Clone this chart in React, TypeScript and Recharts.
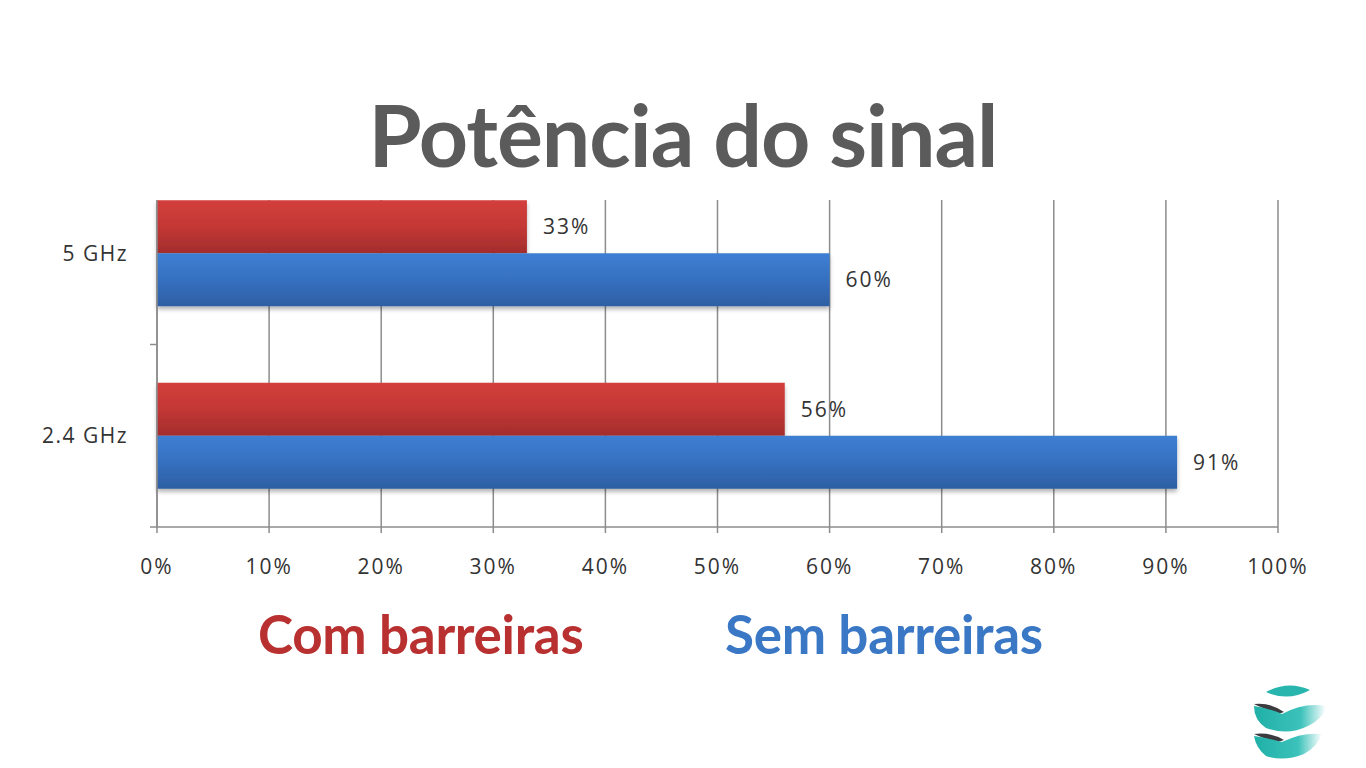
import { BarChart, Bar, XAxis, YAxis, CartesianGrid, LabelList } from "recharts";

const categories = ["5 GHz", "2.4 GHz"];
const comBarreiras = [33, 56];
const semBarreiras = [60, 91];
const xTicks = [0, 10, 20, 30, 40, 50, 60, 70, 80, 90, 100];
const seriesNames = ["Com barreiras", "Sem barreiras"];
const seriesColors = ["#b8302f", "#3a78c6"];

const data = categories.map((c, i) => ({ name: c, com: comBarreiras[i], sem: semBarreiras[i] }));

const TICK_SIZE = 7;
const TICK_MARGIN = 22;
const axisGray = "#8c8c8c";
const labelFont = "'Open Sans', sans-serif";

function YTick(props: any) {
  const { x, y, payload } = props;
  const off = payload.offset ?? 0;
  const x1 = x + TICK_MARGIN;
  return (
    <g>
      <text x={x} y={y} dy="0.35em" textAnchor="end" fill="#333" fontSize={21} letterSpacing={1.5} fontFamily={labelFont}>
        {payload.value}
      </text>
      <line x1={x1} x2={x1 + TICK_SIZE} y1={y + off} y2={y + off} stroke={axisGray} strokeWidth={1.5} />
    </g>
  );
}

function Logo() {
  return (
    <svg width={80} height={80} style={{ position: "absolute", left: 1248, top: 682 }} viewBox="0 0 80 80">
      <defs>
        <linearGradient id="tealFade" x1="0" y1="0" x2="1" y2="0">
          <stop offset="0" stopColor="#1fb0a8" />
          <stop offset="0.65" stopColor="#3cc2ba" />
          <stop offset="1" stopColor="#ffffff" />
        </linearGradient>
      </defs>
      <path d="M18 10 Q40 -2 62 8 Q40 20 18 10 Z" fill="#27b5ad" />
      <path d="M6 22 Q22 20 36 30 L30 32 Q14 26 6 22 Z" fill="#3b3b3f" />
      <path d="M6 24 Q20 26 34 32 Q56 20 78 24 Q76 36 60 44 Q40 54 18 46 Q6 38 6 24 Z" fill="url(#tealFade)" />
      <path d="M6 52 Q22 50 36 58 L30 60 Q14 56 6 52 Z" fill="#3b3b3f" />
      <path d="M6 54 Q20 56 34 60 Q54 50 74 52 Q70 64 56 72 Q36 80 18 74 Q8 66 6 54 Z" fill="url(#tealFade)" />
    </svg>
  );
}

export default function App() {
  return (
    <div style={{ position: "absolute", left: 0, top: 0, width: 1366, height: 768, background: "#fff", overflow: "hidden", fontFamily: "Lato, sans-serif" }}>
      <div style={{ position: "absolute", left: 0, top: 82, width: 1366, textAlign: "center", fontSize: 86, fontWeight: 700, color: "#5b5b5b", letterSpacing: -1 }}>
        Potência do sinal
      </div>

      <div style={{ position: "absolute", left: 0, top: 200, width: 1366, height: 420, overflow: "hidden" }}>
        <div style={{ position: "absolute", left: 0, top: -200 }}>
          <BarChart
            width={1366}
            height={620}
            data={data}
            layout="vertical"
            margin={{ top: 162, right: 88, left: 0, bottom: 33 }}
            barCategoryGap="21%"
            barGap={0}
          >
            <defs>
              <linearGradient id="redGrad" x1="0" y1="0" x2="0" y2="1">
                <stop offset="0" stopColor="#d33f3c" />
                <stop offset="0.5" stopColor="#c33735" />
                <stop offset="1" stopColor="#a32d2c" />
              </linearGradient>
              <linearGradient id="blueGrad" x1="0" y1="0" x2="0" y2="1">
                <stop offset="0" stopColor="#3d7fd3" />
                <stop offset="0.5" stopColor="#3670c0" />
                <stop offset="1" stopColor="#2d5fa3" />
              </linearGradient>
              <filter id="barShadow" x="-5%" y="-20%" width="110%" height="160%">
                <feDropShadow dx="0" dy="3" stdDeviation="2" floodColor="#000" floodOpacity="0.3" />
              </filter>
            </defs>
            <CartesianGrid horizontal={false} stroke={axisGray} strokeWidth={1.5} />
            <XAxis
              type="number"
              domain={[0, 100]}
              ticks={xTicks}
              tickFormatter={(v: number) => `${v}%`}
              axisLine={{ stroke: axisGray, strokeWidth: 1.5 }}
              tickLine={{ stroke: axisGray, strokeWidth: 1.5 }}
              tickSize={6}
              tickMargin={26}
              height={60}
              tick={{ fill: "#333", fontSize: 21, fontFamily: labelFont, letterSpacing: 2 }}
              interval={0}
            />
            <YAxis
              type="category"
              dataKey="name"
              width={157}
              axisLine={{ stroke: axisGray, strokeWidth: 1.5 }}
              tickLine={false}
              tickSize={TICK_SIZE}
              tickMargin={TICK_MARGIN}
              tick={<YTick />}
            />
            <Bar dataKey="com" name={seriesNames[0]} fill="url(#redGrad)" filter="url(#barShadow)" isAnimationActive={false}>
              <LabelList dataKey="com" position="right" offset={16} fill="#333" fontSize={21} letterSpacing={2} fontFamily={labelFont} formatter={(v: any) => `${v}%`} />
            </Bar>
            <Bar dataKey="sem" name={seriesNames[1]} fill="url(#blueGrad)" filter="url(#barShadow)" isAnimationActive={false}>
              <LabelList dataKey="sem" position="right" offset={16} fill="#333" fontSize={21} letterSpacing={2} fontFamily={labelFont} formatter={(v: any) => `${v}%`} />
            </Bar>
          </BarChart>
        </div>
      </div>

      {seriesNames.map((n, i) => (
        <div
          key={n}
          style={{ position: "absolute", left: i === 0 ? 258 : 725, top: 602, fontSize: 53, fontWeight: 700, color: seriesColors[i], letterSpacing: -0.3 }}
        >
          {n}
        </div>
      ))}

      <Logo />
    </div>
  );
}
